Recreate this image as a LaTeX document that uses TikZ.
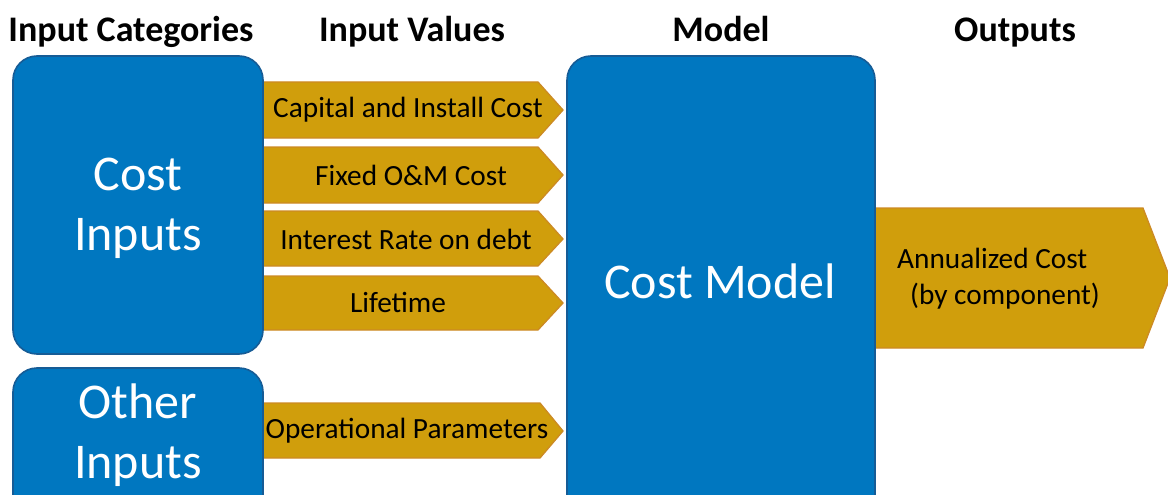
\documentclass[tikz,border=0pt]{standalone}
\usepackage{fontspec}
\setmainfont{Carlito}
\definecolor{blueF}{RGB}{0,119,192}
\definecolor{blueD}{RGB}{22,92,150}
\definecolor{goldF}{RGB}{208,158,12}
\definecolor{goldD}{RGB}{204,138,36}
\begin{document}
\begin{tikzpicture}[x=1pt,y=-1pt,
 bluebox/.style={draw=blueD, line width=1.6pt, fill=blueF, rounded corners=24pt, inner sep=0pt, outer sep=0pt},
 goldarrow/.style={draw=goldD, line width=1.3pt, fill=goldF, line join=miter},
 head/.style={font=\fontsize{36}{40}\selectfont\bfseries, text=black, inner sep=0pt, anchor=base},
 big/.style={font=\fontsize{50}{60}\selectfont, text=white, align=center, inner sep=0pt},
 small/.style={font=\fontsize{29.3}{36}\selectfont, text=black, inner sep=0pt}]
\useasboundingbox (0,0) rectangle (1168,495);
\clip (0,0) rectangle (1168,495);
% headers
\node[head] (h1) at (131,42) {Input Categories};
\node[head] (h2) at (412,42) {Input Values};
\node[head] (h3) at (721,42) {Model};
\node[head] (h4) at (1015,42) {Outputs};
% input arrows
\path[goldarrow] (255,82) -- (538,82) -- (563,110) -- (538,138) -- (255,138) -- cycle;
\path[goldarrow] (255,147) -- (538,147) -- (563,175) -- (538,203) -- (255,203) -- cycle;
\path[goldarrow] (255,211) -- (538,211) -- (563,239) -- (538,266) -- (255,266) -- cycle;
\path[goldarrow] (255,276) -- (538,276) -- (563,303) -- (538,330) -- (255,330) -- cycle;
\path[goldarrow] (255,403) -- (540,403) -- (563,431) -- (540,458) -- (255,458) -- cycle;
% output arrow
\path[goldarrow] (860,208) -- (1143,208) -- (1170,278) -- (1143,348) -- (860,348) -- cycle;
% boxes
\node[bluebox, minimum width=250pt, minimum height=298pt] (ci) at (138,205) {};
\node[bluebox, minimum width=250pt, minimum height=200pt] (oi) at (138,468) {};
\node[bluebox, minimum width=308pt, minimum height=500pt] (cm) at (721,306) {};
% box texts
\node[big] (tci) at (138,208) {Cost\\Inputs};
\node[big] (toi) at (138,435) {Other\\Inputs};
\node[big] (tcm) at (720,281) {Cost Model};
% arrow texts
\node[small] (a1) at (408,110) {Capital and Install Cost};
\node[small] (a2) at (411,175) {Fixed O\&M Cost};
\node[small] (a3) at (406,239) {Interest Rate on debt};
\node[small] (a4) at (398,302) {Lifetime};
\node[small] (a5) at (407,431) {Operational Parameters};
\node[small, align=left, anchor=west] (out) at (897,279) {Annualized Cost\\\hspace*{13pt}(by component)};
\end{tikzpicture}
\end{document}
